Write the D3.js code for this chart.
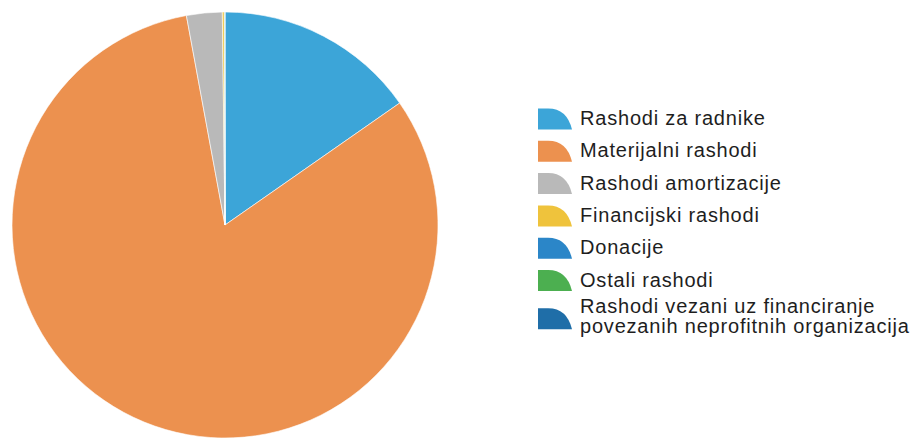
<!DOCTYPE html>
<html lang="hr">
<head>
    <meta charset="UTF-8">
    <title>Rashodi</title>
    <style>
        body {
            margin: 0;
            padding: 0;
            background: #fff;
            font-family: "Liberation Sans", Arial, sans-serif;
        }
    </style>
</head>
<body>
    <div id="chart"></div>

    <script src="https://cdnjs.cloudflare.com/ajax/libs/d3/7.8.5/d3.min.js"></script>
    <script>
        // data (shares in %)
        var categories = [
            "Rashodi za radnike",
            "Materijalni rashodi",
            "Rashodi amortizacije",
            "Financijski rashodi",
            "Donacije",
            "Ostali rashodi",
            "Rashodi vezani uz financiranje povezanih neprofitnih organizacija"
        ];
        var values = [15.3, 81.8, 2.7, 0.15, 0.03, 0.02, 0];
        var colors = ["#3ca5d8", "#ec914f", "#b9b9b9", "#efc33c", "#2b86c8", "#4caf50", "#1f6ea8"];
        // how the legend wraps long labels
        var legendLines = [
            ["Rashodi za radnike"],
            ["Materijalni rashodi"],
            ["Rashodi amortizacije"],
            ["Financijski rashodi"],
            ["Donacije"],
            ["Ostali rashodi"],
            ["Rashodi vezani uz financiranje", "povezanih neprofitnih organizacija"]
        ];

        var width = 918, height = 441;
        var cx = 225, cy = 225, radius = 213;

        var svg = d3.select("#chart")
            .append("svg")
            .attr("width", width)
            .attr("height", height);

        var data = categories.map(function(c, i) {
            return { name: c, value: values[i], color: colors[i], lines: legendLines[i] };
        });

        var pie = d3.pie()
            .sort(null)
            .value(d => d.value);

        var arc = d3.arc()
            .innerRadius(0)
            .outerRadius(radius);

        svg.append("g")
            .attr("transform", "translate(" + cx + "," + cy + ")")
            .selectAll("path")
            .data(pie(data).filter(d => d.data.value > 0))
            .enter().append("path")
            .attr("d", arc)
            .attr("fill", d => d.data.color)
            .attr("stroke", "#fff")
            .attr("stroke-width", 0.6);

        // legend
        var legendX = 538, legendTop = 118, rowStep = 32.3, lineStep = 20;
        var legend = svg.append("g")
            .attr("class", "legend")
            .style("font-size", "20px")
            .attr("fill", "#1e1e1e");

        var y = legendTop;
        data.forEach(function(d, i) {
            var n = d.lines.length;
            if (n > 1) y -= 6;  // wrapped entry sits a bit closer
            var mid = y + (n - 1) * lineStep / 2;
            var g = legend.append("g")
                .attr("transform", "translate(" + legendX + "," + mid + ")");

            // rounded-corner swatch like the original
            var w = 34, h = 21;
            var off = n > 1 ? 3 : 1;
            g.append("path")
                .attr("d", "M0," + (off - h / 2) + " L" + (w * 0.3) + "," + (off - h / 2) +
                    " Q" + (w * 0.85) + "," + (off - h / 2) + " " + w + "," + (off + h / 2) +
                    " L0," + (off + h / 2) + " Z")
                .attr("fill", d.color);

            d.lines.forEach(function(t, j) {
                g.append("text")
                    .attr("x", 42)
                    .attr("y", (j - (n - 1) / 2) * lineStep)
                    .attr("dy", "0.35em")
                    .style("letter-spacing", "0.8px")
                    .text(t);
            });

            y += (n - 1) * lineStep + rowStep;
        });
    </script>
</body>
</html>
